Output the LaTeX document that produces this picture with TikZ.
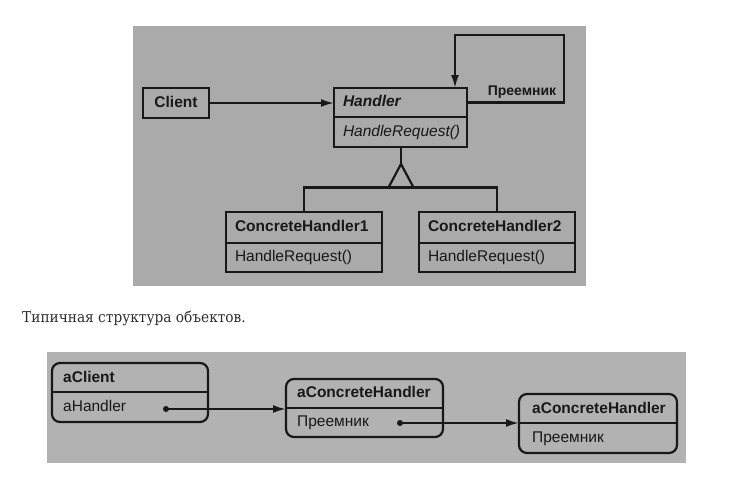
\documentclass[tikz,border=0pt]{standalone}
\usepackage{fontspec}
\setmainfont{Liberation Sans}
\newfontfamily\capfont{DejaVu Serif}
\usetikzlibrary{arrows.meta}
\definecolor{topgray}{RGB}{170,170,170}
\definecolor{botgray}{RGB}{178,178,178}
\definecolor{ink}{RGB}{24,24,24}
\definecolor{capink}{RGB}{45,45,45}
\begin{document}
\begin{tikzpicture}[x=1pt,y=-1pt,
  every node/.style={font=\fontsize{15.5}{17}\selectfont, text=ink},
  boxline/.style={draw=ink, line width=2.2pt, outer sep=0pt},
  clsname/.style={boxline, font=\fontsize{15.5}{17}\selectfont\bfseries, inner xsep=9pt, inner ysep=0pt, align=left, text height=11pt, text depth=3pt},
  clsmeth/.style={boxline, inner xsep=9pt, inner ysep=0pt, align=left, text height=11pt, text depth=3pt},
  objbox/.style={draw=ink, line width=2.2pt, rounded corners=8pt, inner sep=0pt, outer sep=0pt},
  objtxt/.style={anchor=west, inner sep=0pt, text height=11pt, text depth=3pt},
  conn/.style={draw=ink, line width=2.2pt},
  tip/.style={-{Latex[length=13pt,width=8pt]}}
]
\useasboundingbox (0,0) rectangle (733,482);
% panels
\fill[topgray] (133,26) rectangle (586,286);
\fill[botgray] (47,352) rectangle (686,463);

% ---- class diagram ----
\node[clsname, text width=48pt, align=center, minimum height=30pt] (client) at (176,103) {Client};
\node[clsname, font=\fontsize{15.5}{17}\selectfont\bfseries\itshape, text width=115pt, minimum height=29pt] (hname) at (400.5,102.5) {Handler};
\node[clsmeth, font=\fontsize{15.5}{17}\selectfont\itshape, text width=115pt, minimum height=30pt, anchor=north] (hmeth) at (hname.south) {HandleRequest()};
\node[clsname, text width=138pt, minimum height=31pt] (c1name) at (304,227.5) {ConcreteHandler1};
\node[clsmeth, text width=138pt, minimum height=29pt, anchor=north] (c1meth) at (c1name.south) {HandleRequest()};
\node[clsname, text width=138pt, minimum height=31pt] (c2name) at (497,227.5) {ConcreteHandler2};
\node[clsmeth, text width=138pt, minimum height=29pt, anchor=north] (c2meth) at (c2name.south) {HandleRequest()};

\draw[conn, tip] (client.east) -- (client.east -| hname.west);

\coordinate (loopTR) at (564,35);
\coordinate (loopTL) at (455,35);
\draw[conn, tip] (hname.east) -- (hname.east -| loopTR) -- (loopTR) -- (loopTL) -- (loopTL |- hname.north);
\node[inner sep=0pt, font=\fontsize{14}{16}\selectfont\bfseries] (succ) at (522,92) {Преемник};

\coordinate (apex) at (401,164);
\coordinate (base) at (401,187.5);
\draw[conn] (hmeth.south -| apex) -- (apex);
\draw[conn, line join=miter] (apex) -- ([xshift=-12.5pt]base) -- ([xshift=12.5pt]base) -- cycle;
\draw[conn] (c1name.north) -- (c1name.north |- base) -- (c2name.north |- base) -- (c2name.north);

% ---- caption ----
\node[anchor=base west, inner sep=0pt, text=capink] (cap) at (22,322) {\capfont\fontsize{15}{17}\selectfont\scalebox{0.915}[1]{Типичная структура объектов.}};

% ---- object diagram ----
\node[objbox, minimum width=156pt, minimum height=59pt] (oc) at (130,392.5) {};
\draw[conn] (oc.west |- 0,392) -- (oc.east |- 0,392);
\node[objtxt, font=\fontsize{15.5}{17}\selectfont\bfseries] (ocn) at (63,378) {aClient};
\node[objtxt] (och) at (63,407.5) {aHandler};

\node[objbox, minimum width=157pt, minimum height=58pt] (o1) at (364.5,408) {};
\draw[conn] (o1.west |- 0,408) -- (o1.east |- 0,408);
\node[objtxt, font=\fontsize{15.5}{17}\selectfont\bfseries] (o1n) at (297,393.5) {aConcreteHandler};
\node[objtxt] (o1s) at (297,422.5) {Преемник};

\node[objbox, minimum width=158pt, minimum height=59pt] (o2) at (598,423.5) {};
\draw[conn] (o2.west |- 0,423) -- (o2.east |- 0,423);
\node[objtxt, font=\fontsize{15.5}{17}\selectfont\bfseries] (o2n) at (532,409) {aConcreteHandler};
\node[objtxt] (o2s) at (532,438) {Преемник};

\coordinate (d1) at (166,409);
\coordinate (d2) at (400,423);
\fill[ink] (d1) circle (3pt);
\fill[ink] (d2) circle (3pt);
\draw[conn, tip] (d1) -- (d1 -| o1.west);
\draw[conn, tip] (d2) -- (d2 -| o2.west);
\end{tikzpicture}
\end{document}
